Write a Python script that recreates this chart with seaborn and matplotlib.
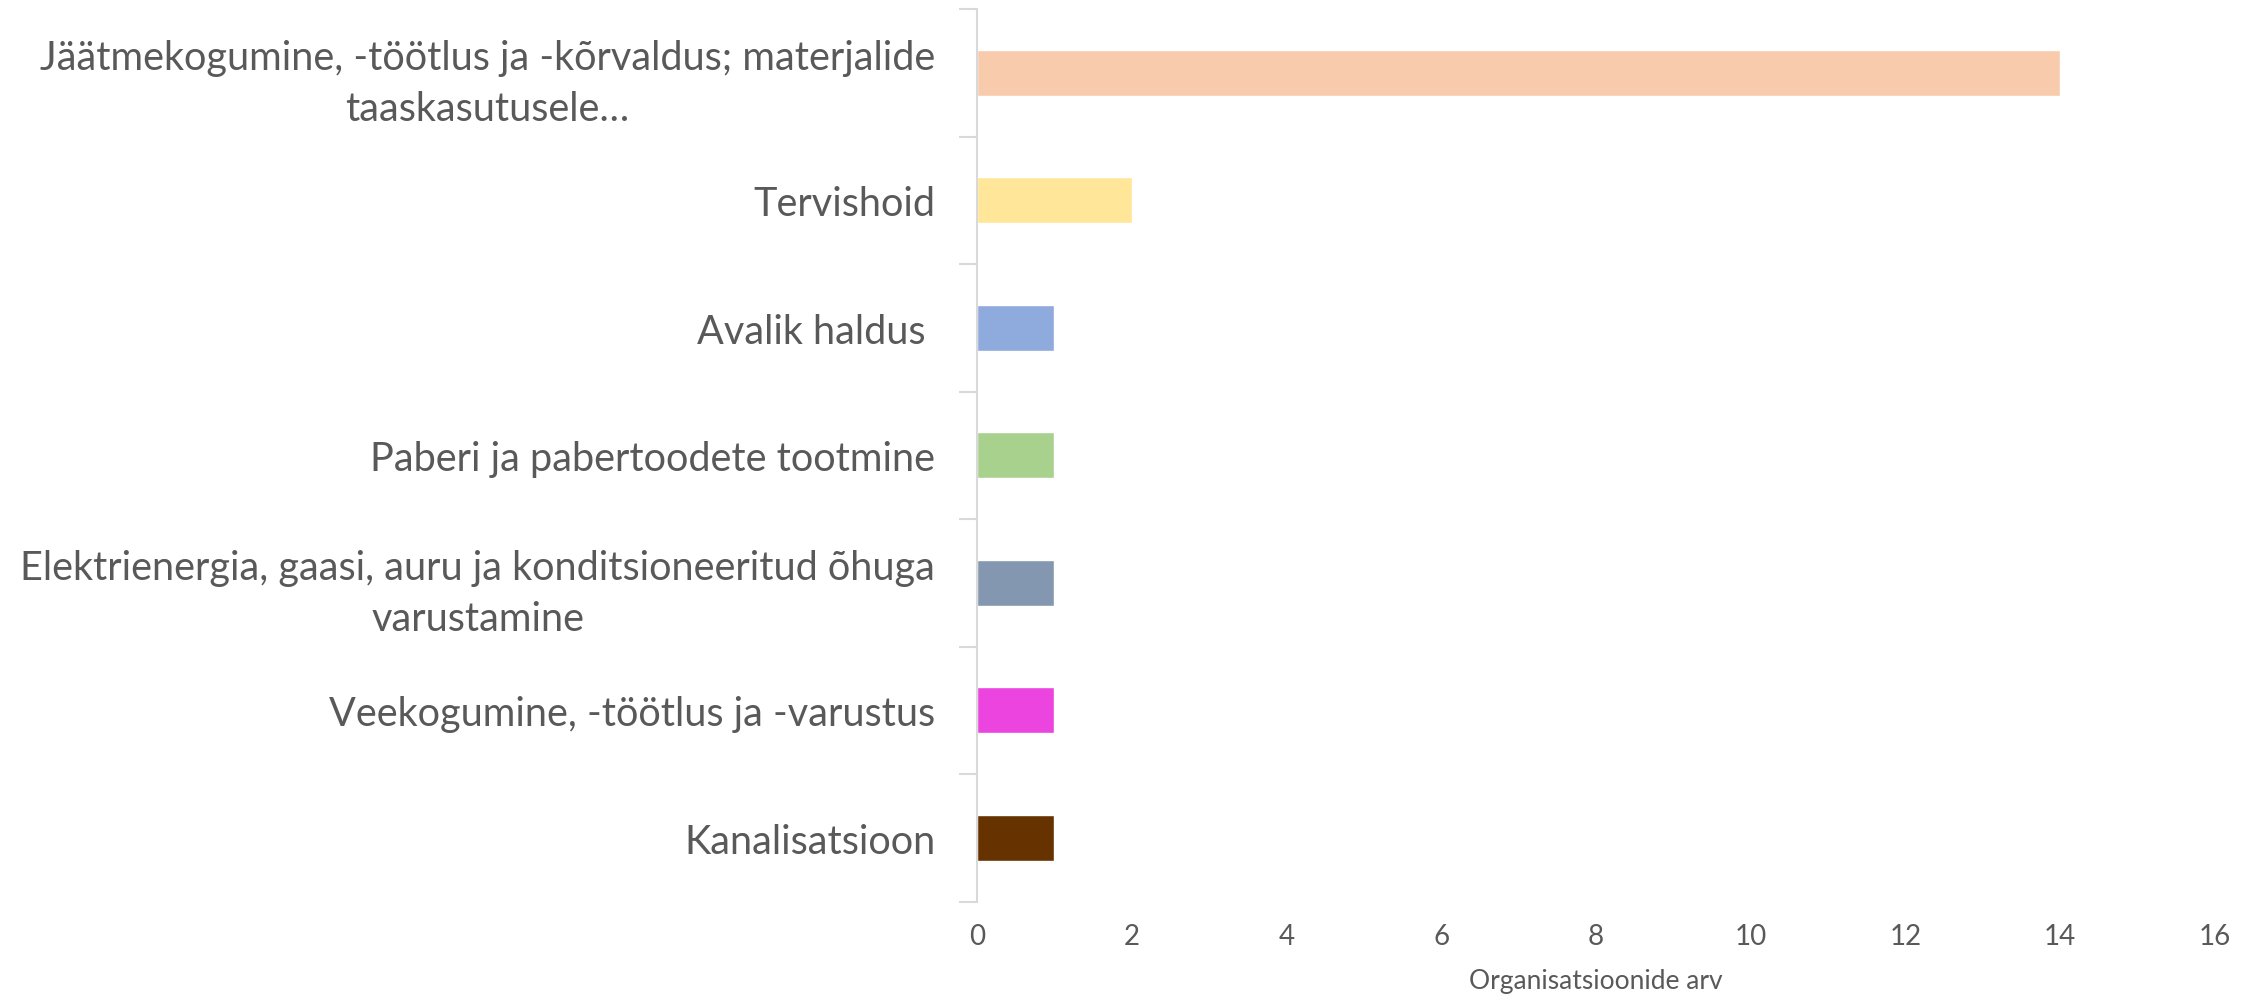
import numpy as np
import pandas as pd
import seaborn as sns
import matplotlib.pyplot as plt

# data
categories = [
    "Jäätmekogumine, -töötlus ja -kõrvaldus; materjalide\ntaaskasutusele…",
    "Tervishoid",
    "Avalik haldus ",
    "Paberi ja pabertoodete tootmine",
    "Elektrienergia, gaasi, auru ja konditsioneeritud õhuga\nvarustamine",
    "Veekogumine, -töötlus ja -varustus",
    "Kanalisatsioon",
]
counts = [14, 2, 1, 1, 1, 1, 1]
bar_colors = ["#F8CBAD", "#FFE699", "#8FAADC", "#A9D18E", "#8497B0", "#EB44DF", "#663300"]
x_ticks = [0, 2, 4, 6, 8, 10, 12, 14, 16]
x_label = "Organisatsioonide arv"

df = pd.DataFrame({"category": categories, "count": counts})

sns.set_style("white")
plt.rcParams["font.family"] = ["Lato", "DejaVu Sans"]
text_color = "#595959"
line_color = "#D9D9D9"

fig = plt.figure(figsize=(22.63, 10.03), dpi=100)
ax = fig.add_axes([0.4317, 0.10, 0.5471, 0.89])

sns.barplot(data=df, x="count", y="category", hue="category",
            palette=bar_colors, legend=False, orient="h", width=0.36,
            saturation=1, ax=ax)

ax.set_xlim(0, 16)
ax.set_ylim(len(categories) - 0.5, -0.5)
ax.set_xticks(x_ticks)
ax.set_xticklabels([str(t) for t in x_ticks], fontsize=20, color=text_color)
ax.tick_params(axis="x", length=0, pad=15)
ax.set_xlabel(x_label, fontsize=19, color=text_color, labelpad=14)
ax.set_ylabel("")

ax.set_yticks(range(len(categories)))
ax.set_yticklabels(categories, fontsize=28.5, color=text_color,
                   multialignment="center", linespacing=1.45)
ax.set_yticks(np.arange(-0.5, len(categories)), minor=True)
ax.tick_params(axis="y", which="major", length=0, pad=30)
ax.tick_params(axis="y", which="minor", length=13, width=1.5, color=line_color, left=True)

for side in ["top", "right", "bottom"]:
    ax.spines[side].set_visible(False)
ax.spines["left"].set_color(line_color)
ax.spines["left"].set_linewidth(1.5)

fig.savefig("out.png", dpi=100, facecolor="white")
